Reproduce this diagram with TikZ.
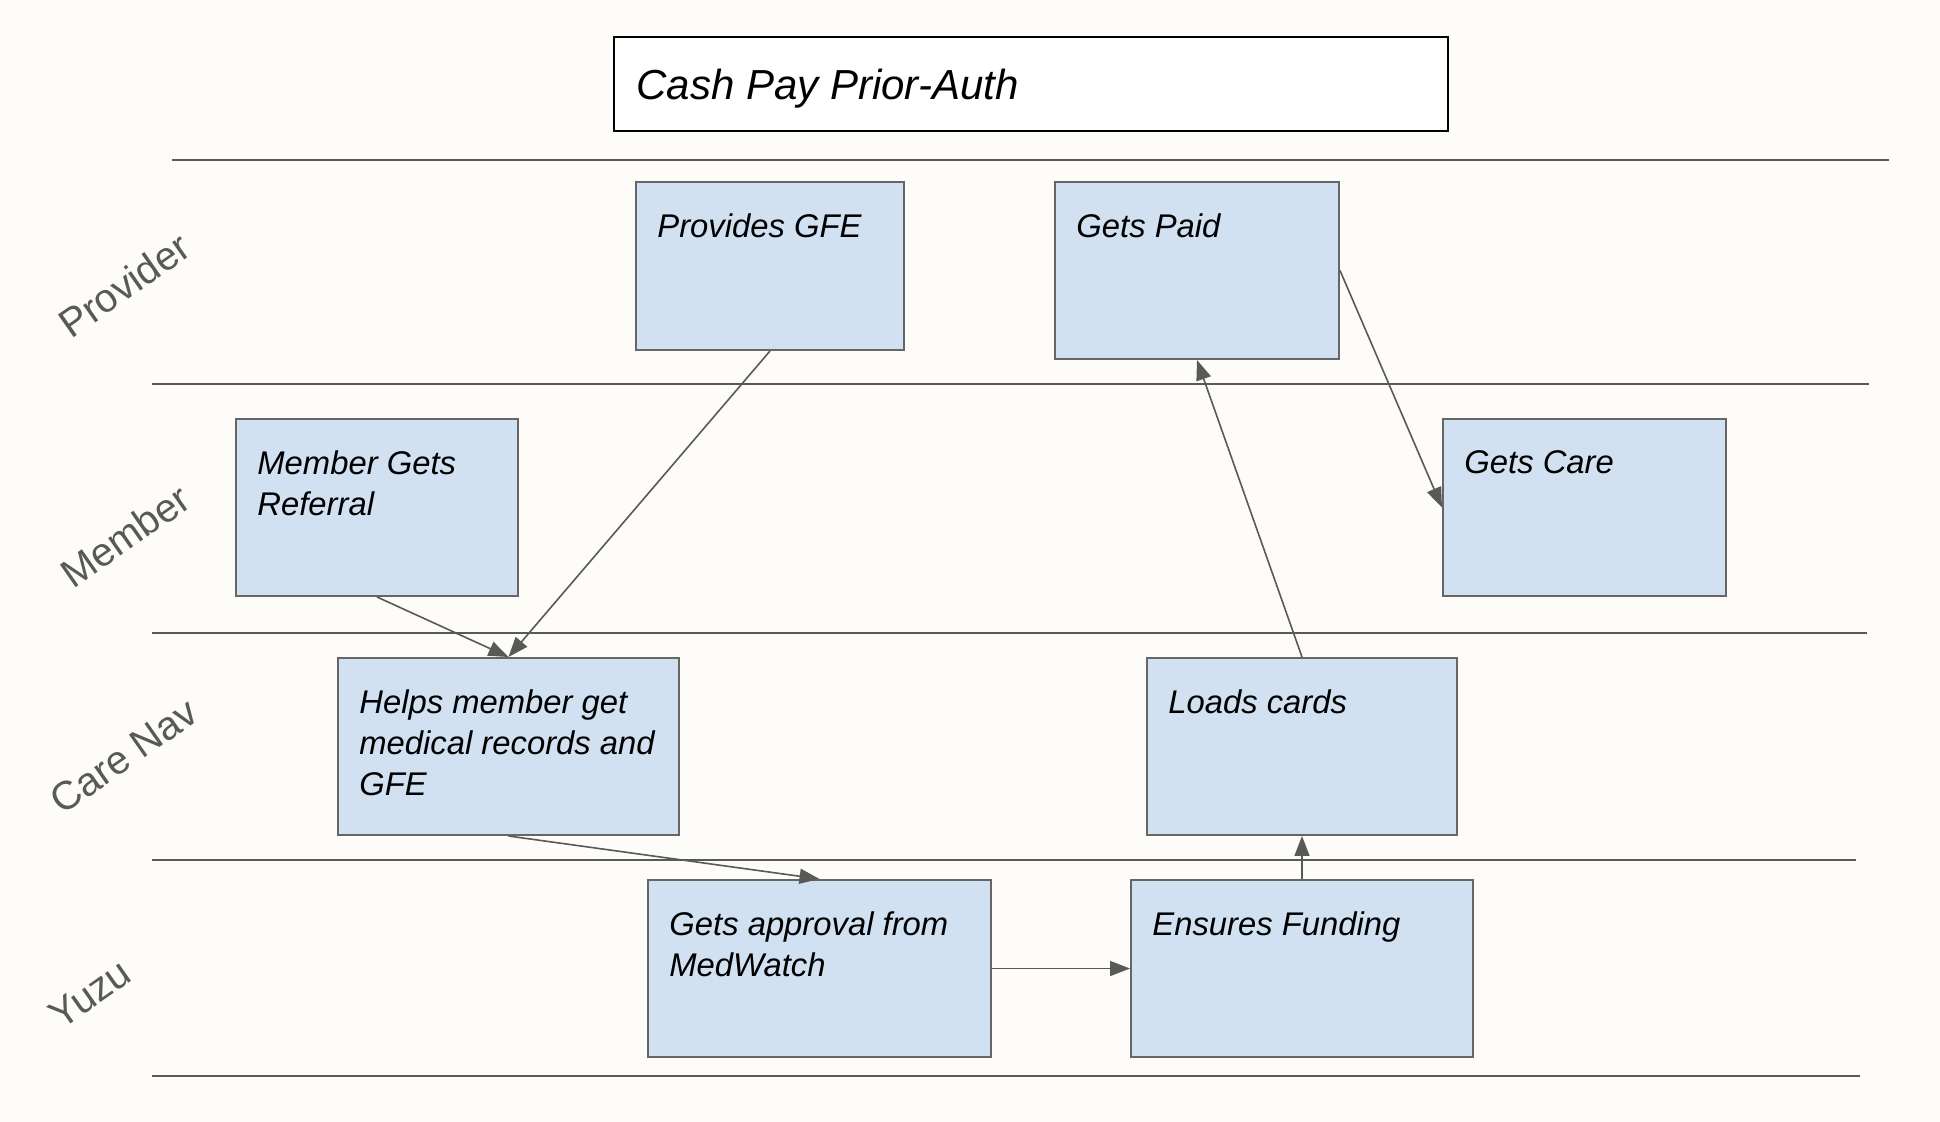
\documentclass[tikz,border=0pt]{standalone}
\usepackage{fontspec}
\setmainfont{Liberation Sans}
\usetikzlibrary{arrows.meta,positioning}
\definecolor{lanegray}{HTML}{595959}
\definecolor{boxblue}{HTML}{D2E1F2}
\definecolor{boxedge}{HTML}{666666}
\definecolor{paper}{HTML}{FDFCF8}

\begin{document}
\begin{tikzpicture}[x=0.5pt,y=-0.5pt,
  task/.style={draw=boxedge,fill=boxblue,line width=1pt,inner sep=0pt},
  tasktext/.style={anchor=north west,inner sep=0pt,align=left,font=\fontsize{16.4}{20.5}\selectfont\itshape,xshift=11pt,yshift=-16pt},
  lane/.style={font=\fontsize{20}{24}\selectfont,text=lanegray,rotate=35},
  sep/.style={draw=lanegray,line width=0.8pt},
  arrow/.style={-{Triangle[length=10pt,width=7.5pt]},line width=0.8pt,draw=lanegray}
]
\fill[paper] (0,0) rectangle (1940,1122);
% title
\node[draw=black,line width=1pt,fill=white,minimum width=417pt,minimum height=47pt,inner sep=0pt] (title) at (1031,84) {};
\node[anchor=west,inner sep=0pt,xshift=11.5pt,yshift=-2.5pt,font=\fontsize{21}{25}\selectfont\itshape] (titletext) at (title.west) {Cash Pay Prior-Auth};
% lanes
\draw[sep] (172,160) -- (1889,160);
\draw[sep] (152,384) -- (1869,384);
\draw[sep] (152,633) -- (1867,633);
\draw[sep] (152,860) -- (1856,860);
\draw[sep] (152,1076) -- (1860,1076);
\node[lane] (provider) at (124,285) {Provider};
\node[lane] (member) at (125,536) {Member};
\node[lane] (carenav) at (124,756) {Care Nav};
\node[lane] (yuzu) at (90,994) {Yuzu};
% tasks
\node[task,minimum width=134pt,minimum height=84pt] (gfe) at (770,266) {};
\node[tasktext] (gfetext) at (gfe.north west) {Provides GFE};
\node[task,minimum width=142pt,minimum height=88.5pt] (paid) at (1197,270.5) {};
\node[tasktext] (paidtext) at (paid.north west) {Gets Paid};
\node[task,minimum width=141pt,minimum height=88.5pt] (referral) at (377,507.5) {};
\node[tasktext] (referraltext) at (referral.north west) {Member Gets\\Referral};
\node[task,minimum width=141.5pt,minimum height=88.5pt] (care) at (1584.5,507.5) {};
\node[tasktext] (caretext) at (care.north west) {Gets Care};
\node[task,minimum width=170.5pt,minimum height=88.5pt] (helps) at (508.5,746.5) {};
\node[tasktext] (helpstext) at (helps.north west) {Helps member get\\medical records and\\GFE};
\node[task,minimum width=155pt,minimum height=88.5pt] (loads) at (1302,746.5) {};
\node[tasktext] (loadstext) at (loads.north west) {Loads cards};
\node[task,minimum width=171.5pt,minimum height=88.5pt] (approval) at (819.5,968.5) {};
\node[tasktext] (approvaltext) at (approval.north west) {Gets approval from\\MedWatch};
\node[task,minimum width=171pt,minimum height=88.5pt] (funding) at (1302,968.5) {};
\node[tasktext] (fundingtext) at (funding.north west) {Ensures Funding};
% flow
\draw[arrow] (gfe.south) -- (helps.north);
\draw[arrow] (referral.south) -- (helps.north);
\draw[arrow] (helps.south) -- (approval.north);
\draw[arrow] (approval.east) -- (funding.west);
\draw[arrow] (funding.north) -- (loads.south);
\draw[arrow] (loads.north) -- (paid.south);
\draw[arrow] (paid.east) -- (care.west);
\end{tikzpicture}
\end{document}
